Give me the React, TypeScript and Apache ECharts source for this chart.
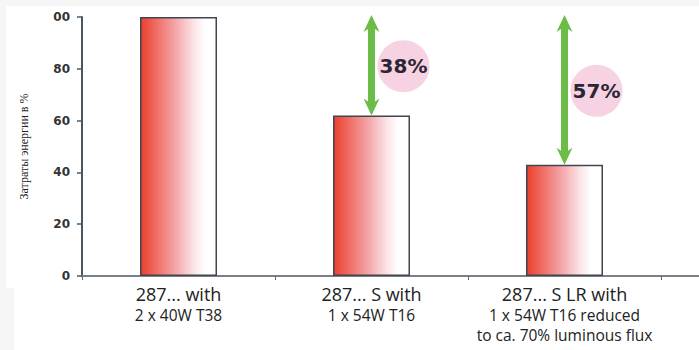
import React, { useEffect, useRef } from "react";
import * as echarts from "echarts";

const categories = ["287... with", "287... S with", "287... S LR with"];
const subLines = [["2 x 40W T38"], ["1 x 54W T16"], ["1 x 54W T16 reduced", "to ca. 70% luminous flux"]];
const values = [100, 62, 43];
const yTickLabels = ["0", "20", "40", "60", "80", "00"];
const yAxisTitle = "Затраты энергии в %";
const reference = 100;
const savings = [
  { index: 1, from: 100, to: 62 },
  { index: 2, from: 100, to: 43 },
];

export default function App() {
  const ref = useRef<HTMLDivElement>(null);
  useEffect(() => {
    if (!ref.current) return;
    const chart = echarts.init(ref.current, undefined, { renderer: "svg" });
    const barGradient = new echarts.graphic.LinearGradient(0, 0, 1, 0, [
      { offset: 0, color: "#e9402c" },
      { offset: 0.12, color: "#ee5a4c" },
      { offset: 0.45, color: "#f4a3a7" },
      { offset: 0.7, color: "#fbe3e6" },
      { offset: 0.85, color: "#ffffff" },
      { offset: 1, color: "#ffffff" },
    ]);
    const cats = [...categories, ""];
    const option: any = {
      animation: false,
      backgroundColor: "#f6f6f6",
      graphic: [
        { type: "rect", z: -10, silent: true, shape: { x: 6, y: 6, width: 693, height: 282 }, style: { fill: "#ffffff" } },
        { type: "rect", z: -10, silent: true, shape: { x: 14, y: 286, width: 685, height: 64 }, style: { fill: "#ffffff" } },
      ],
      grid: { left: 82, top: 17, width: 772, height: 259, containLabel: false, outerBoundsMode: "none" },
      xAxis: {
        type: "category",
        data: cats,
        axisLine: { show: true, lineStyle: { color: "#7b8086", width: 2 } },
        axisTick: { show: true, length: 4, lineStyle: { color: "#4f6a7e", width: 1 } },
        axisLabel: {
          margin: 6,
          interval: 0,
          formatter: (v: string, i: number) => {
            if (!v) return "";
            const sub = subLines[i] || [];
            return ["{a|" + v + "}", ...sub.map((s) => "{b|" + s + "}")].join("\n");
          },
          rich: {
            a: { fontFamily: "Open Sans", fontSize: 18, color: "#222", lineHeight: 23 },
            b: { fontFamily: "Open Sans", fontSize: 15.5, color: "#222", lineHeight: 20 },
          },
        },
        splitLine: { show: false },
      },
      yAxis: {
        type: "value",
        min: 0,
        max: 100,
        interval: 20,
        name: yAxisTitle,
        nameLocation: "middle",
        nameGap: 52,
        nameTextStyle: { fontFamily: "Liberation Serif", fontSize: 12, color: "#222" },
        axisLine: { show: true, lineStyle: { color: "#4b5862", width: 2 } },
        axisTick: { show: true, length: 5, lineStyle: { color: "#4b5862", width: 1.5 } },
        axisLabel: {
          margin: 12,
          fontFamily: "DejaVu Sans",
          fontWeight: "bold",
          fontSize: 12,
          color: "#333",
          formatter: (v: number) => yTickLabels[Math.round(v / 20)] ?? String(v),
        },
        splitLine: { show: false },
      },
      series: [
        {
          type: "bar",
          data: values,
          barWidth: 77,
          itemStyle: { color: barGradient, borderColor: "#3f474e", borderWidth: 1.5 },
          z: 2,
        },
        {
          type: "custom",
          z: 5,
          data: savings.map((s) => [s.index, s.from, s.to]),
          renderItem: (params: any, api: any) => {
            const idx = api.value(0);
            const top = api.coord([idx, api.value(1)]);
            const bot = api.coord([idx, api.value(2)]);
            const x = top[0];
            const y1 = top[1] - 2;
            const y2 = bot[1];
            const sw = 3.5, hw = 8, hl = 17, hn = 14;
            const pts = [
              [x, y1], [x + hw, y1 + hl], [x + sw, y1 + hn], [x + sw, y2 - hn], [x + hw, y2 - hl],
              [x, y2], [x - hw, y2 - hl], [x - sw, y2 - hn], [x - sw, y1 + hn], [x - hw, y1 + hl],
            ];
            const mid = api.coord([idx, (api.value(1) + api.value(2)) / 2]);
            const pct = Math.round(reference - api.value(2)) + "%";
            return {
              type: "group",
              children: [
                { type: "circle", shape: { cx: x + 32, cy: mid[1], r: 26 }, style: { fill: "#f7d2e2" } },
                { type: "polygon", shape: { points: pts }, style: { fill: "#6cbd47" } },
                {
                  type: "text",
                  x: x + 32,
                  y: mid[1],
                  style: {
                    text: pct,
                    align: "center",
                    verticalAlign: "middle",
                    fontFamily: "DejaVu Sans",
                    fontWeight: "bold",
                    fontSize: 20,
                    fill: "#2b2633",
                  },
                },
              ],
            };
          },
        },
      ],
    };
    chart.setOption(option);
    return () => chart.dispose();
  }, []);
  return <div ref={ref} style={{ position: "fixed", left: 0, top: 0, width: 699, height: 350 }} />;
}
